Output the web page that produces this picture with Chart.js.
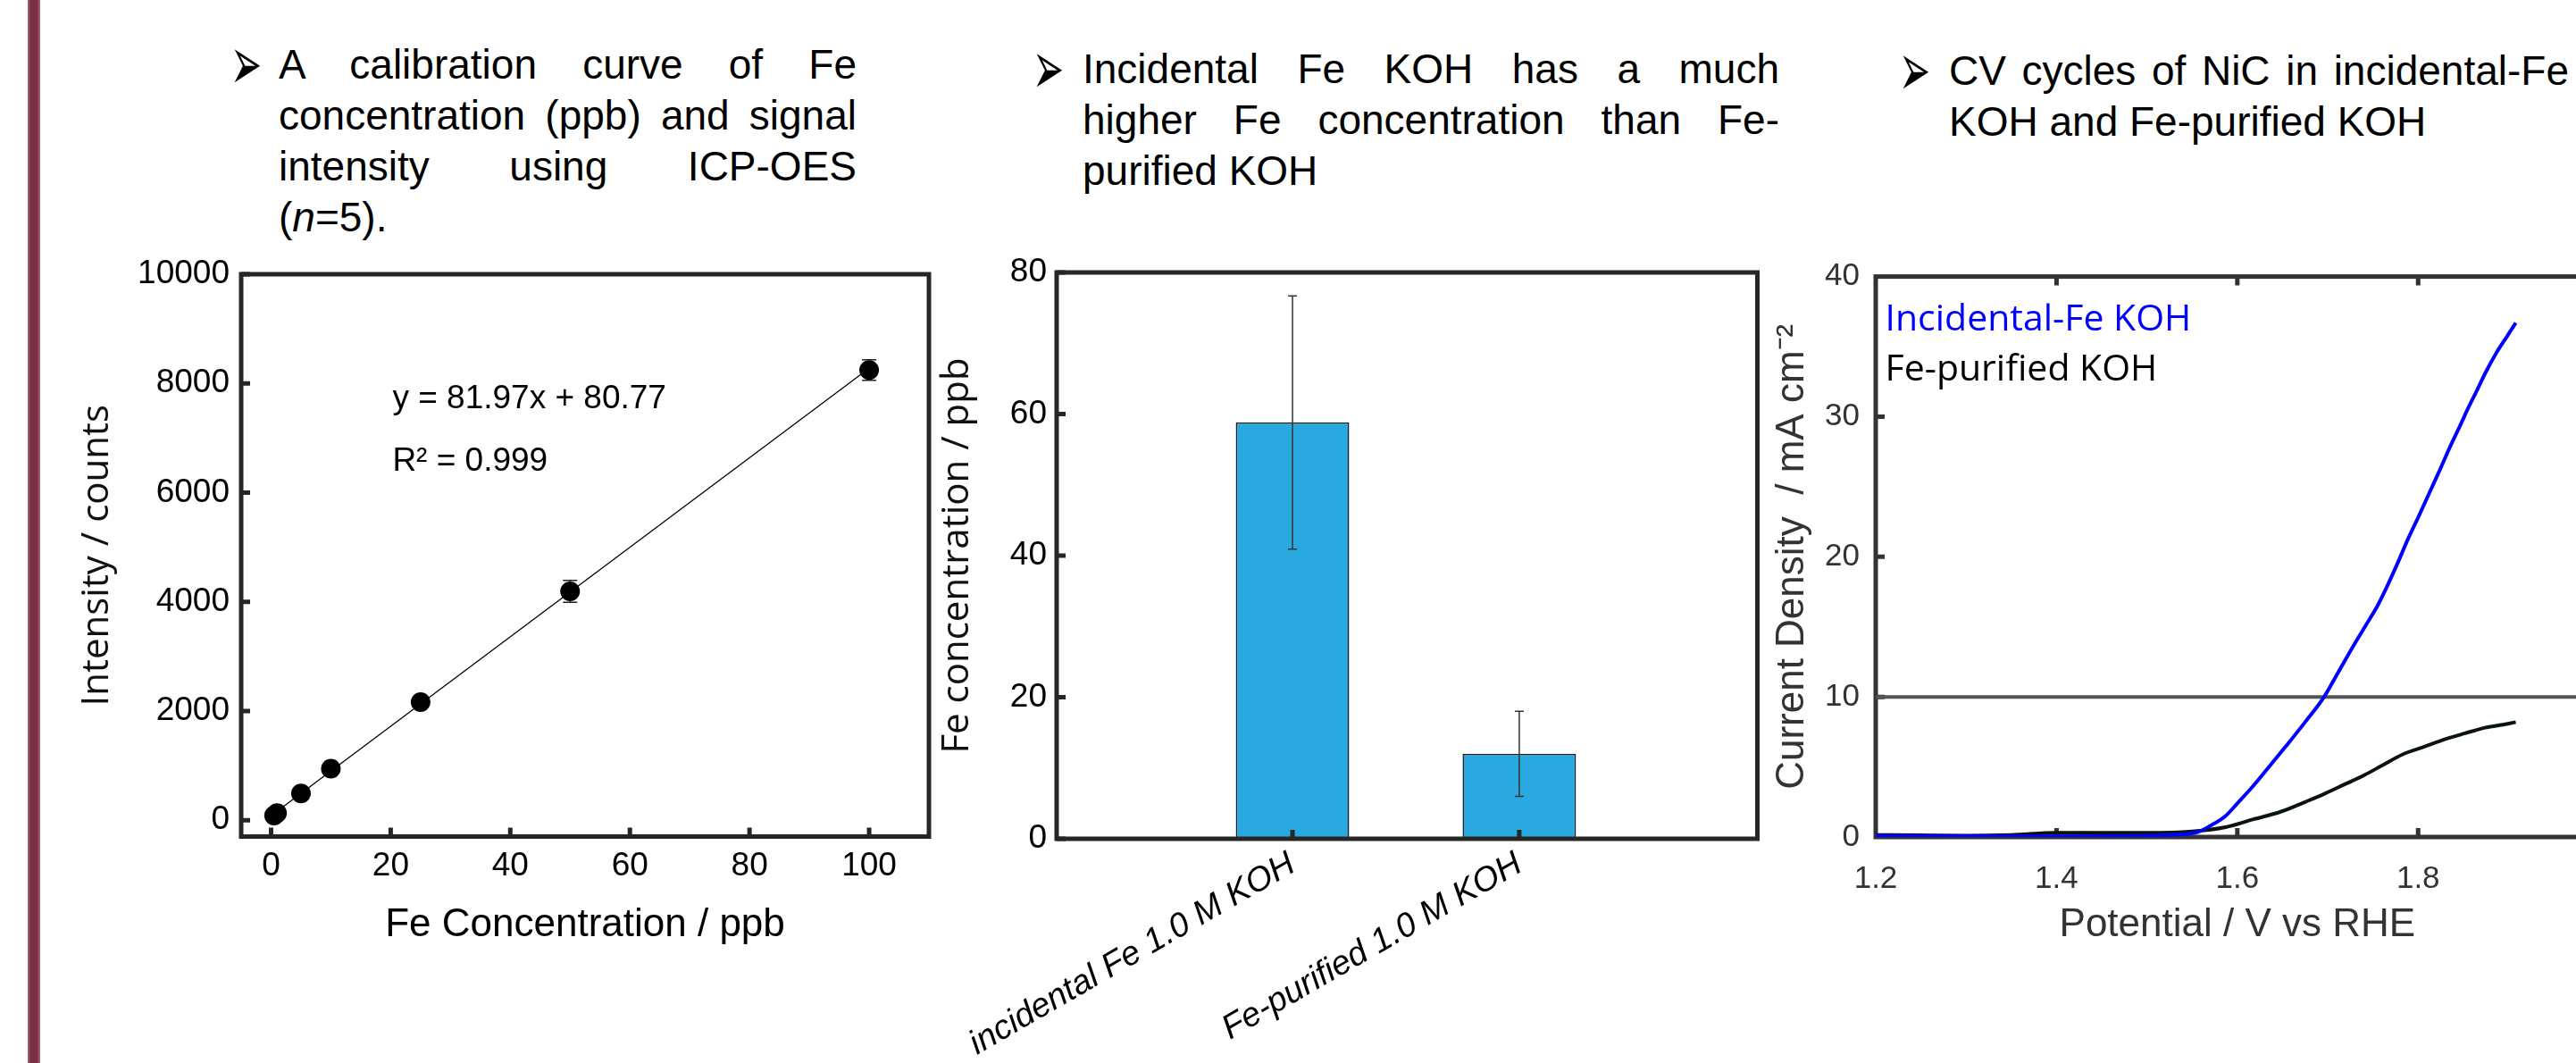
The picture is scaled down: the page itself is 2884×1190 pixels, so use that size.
<!DOCTYPE html>
<html><head><meta charset="utf-8">
<script src="https://cdn.jsdelivr.net/npm/chart.js@4.4.1/dist/chart.umd.min.js"></script>
<style>
html,body{margin:0;padding:0;background:#fff;width:2884px;height:1190px;overflow:hidden;position:relative;}
#redbar{position:absolute;left:31px;top:0;width:14px;height:1190px;background:linear-gradient(to right,#a46b78,#7b2f44 25%,#7b2f44 75%,#a46b78);}
.blk{position:absolute;display:flex;align-items:baseline;}
.bul{font-family:'DejaVu Sans';font-size:84px;line-height:0;flex:none;}
.bul span{display:inline-block;transform:translate(2px,12px) scaleX(0.5);transform-origin:0 100%;}
.txt{font-family:'Liberation Sans',Arial,sans-serif;font-size:46px;line-height:57px;color:#000;flex:none;}
.j{text-align:justify;text-align-last:justify;}
canvas{position:absolute;}
</style></head><body>
<div id="redbar"></div>

<div class="blk" style="left:256px;top:44px;">
  <div class="bul" style="width:56px"><span>➢</span></div>
  <div class="txt" style="width:647px">
    <div class="j">A calibration curve of Fe</div>
    <div class="j">concentration (ppb) and signal</div>
    <div class="j">intensity using ICP-OES</div>
    <div>(<i>n</i>=5).</div>
  </div>
</div>
<div class="blk" style="left:1154px;top:49px;">
  <div class="bul" style="width:58px"><span>➢</span></div>
  <div class="txt" style="width:780px">
    <div class="j">Incidental Fe KOH has a much</div>
    <div class="j">higher Fe concentration than Fe-</div>
    <div>purified KOH</div>
  </div>
</div>
<div class="blk" style="left:2124px;top:51px;">
  <div class="bul" style="width:58px"><span>➢</span></div>
  <div class="txt" style="width:694px">
    <div class="j">CV cycles of NiC in incidental-Fe</div>
    <div>KOH and Fe-purified KOH</div>
  </div>
</div>

<canvas id="c1"></canvas>
<canvas id="c2"></canvas>
<canvas id="c3"></canvas>

<script>
// ---------- DATA ----------
// Chart 1: ICP-OES calibration
const calConc = [0.5, 1, 5, 10, 25, 50, 100];
const calIntensity = [85, 130, 490, 942, 2163, 4190, 8245];
const calError = [30, 30, 40, 50, 80, 200, 190];
const fitConc = [0.5, 100];
const fitIntensity = [122, 8278];
const fitEquation = 'y = 81.97x + 80.77';
const fitR2 = 'R² = 0.999';
const calXTicks = [0, 20, 40, 60, 80, 100];
const calYTicks = [0, 2000, 4000, 6000, 8000, 10000];

// Chart 2: Fe concentration bars
const barCategories = ['incidental Fe 1.0 M KOH', 'Fe-purified 1.0 M KOH'];
const barPositions = [1, 2];
const barFe = [58.8, 12.0];
const barFeError = [17.9, 6.0];
const barYTicks = [0, 20, 40, 60, 80];

// Chart 3: CV curves
const cvPotentialIncidental = [1.20,1.25,1.30,1.35,1.40,1.45,1.50,1.53,1.556,1.57,1.587,1.60,1.617,1.635,1.654,1.675,1.696,1.712,1.728,1.742,1.755,1.765,1.777,1.789,1.80,1.812,1.824,1.835,1.846,1.856,1.866,1.875,1.887,1.898,1.908];
const cvCurrentIncidental = [0.10,0.08,0.06,0.05,0.05,0.06,0.10,0.16,0.35,0.8,1.5,2.4,3.6,5.0,6.5,8.2,10.0,11.8,13.6,15.1,16.5,17.8,19.5,21.3,22.8,24.5,26.2,27.8,29.3,30.7,32.0,33.2,34.6,35.7,36.7];
const cvPotentialPurified = [1.20,1.25,1.30,1.35,1.40,1.45,1.50,1.55,1.587,1.617,1.648,1.675,1.697,1.72,1.74,1.76,1.783,1.805,1.831,1.852,1.874,1.892,1.908];
const cvCurrentPurified = [0.15,0.12,0.10,0.15,0.30,0.30,0.30,0.40,0.7,1.25,1.8,2.5,3.1,3.8,4.4,5.1,5.9,6.4,7.0,7.4,7.8,8.0,8.2];
const refPotential = [1.2, 2.0];
const refCurrent = [10, 10];
const cvLegend = ['Incidental-Fe KOH', 'Fe-purified KOH'];
const cvXTicks = [1.2, 1.4, 1.6, 1.8, 2.0];
const cvYTicks = [0, 10, 20, 30, 40];

// ---------- HELPERS ----------
Chart.defaults.font.family = "'Liberation Sans', Arial, sans-serif";
Chart.defaults.color = '#000';
function mk(id, left, top, w, h) {
  const c = document.getElementById(id);
  c.width = w; c.height = h;
  c.style.left = left + 'px'; c.style.top = top + 'px';
  c.style.width = w + 'px'; c.style.height = h + 'px';
  return c;
}
function setTicks(values) { return s => { s.ticks = values.map(v => ({value: v})); }; }
function drawBox(chart, cfg) {
  const {ctx, chartArea: a} = chart;
  ctx.save(); ctx.strokeStyle = cfg.color; ctx.lineWidth = cfg.width;
  ctx.strokeRect(a.left, a.top, a.right - a.left, a.bottom - a.top);
  ctx.restore();
}
function drawTicks(chart, cfg) {
  const {ctx, chartArea: a, scales} = chart;
  ctx.save(); ctx.strokeStyle = cfg.color; ctx.lineWidth = cfg.tickWidth; ctx.beginPath();
  (cfg.bottom || []).forEach(v => { const p = scales.x.getPixelForValue(v); ctx.moveTo(p, a.bottom); ctx.lineTo(p, a.bottom - cfg.tickLen); });
  (cfg.top || []).forEach(v => { const p = scales.x.getPixelForValue(v); ctx.moveTo(p, a.top); ctx.lineTo(p, a.top + cfg.tickLen); });
  (cfg.left || []).forEach(v => { const p = scales.y.getPixelForValue(v); ctx.moveTo(a.left, p); ctx.lineTo(a.left + cfg.tickLen, p); });
  ctx.stroke(); ctx.restore();
}
function drawErrors(chart, xs, ys, es, color, lw, cap) {
  const {ctx, scales} = chart;
  ctx.save(); ctx.strokeStyle = color; ctx.lineWidth = lw; ctx.beginPath();
  xs.forEach((x, i) => {
    const px = scales.x.getPixelForValue(x);
    const top = scales.y.getPixelForValue(ys[i] + es[i]);
    const bot = scales.y.getPixelForValue(ys[i] - es[i]);
    ctx.moveTo(px, top); ctx.lineTo(px, bot);
    ctx.moveTo(px - cap, top); ctx.lineTo(px + cap, top);
    ctx.moveTo(px - cap, bot); ctx.lineTo(px + cap, bot);
  });
  ctx.stroke(); ctx.restore();
}
const noGrid = {display: false, drawTicks: false};
const noBorder = {display: false};
const plain = v => String(Math.round(v * 10) / 10);

// ---------- CHART 1 ----------
new Chart(mk('c1', 0, 250, 1100, 850), {
  type: 'scatter',
  data: {
    datasets: [
      {label: 'data', data: calConc.map((x, i) => ({x, y: calIntensity[i]})), pointRadius: 11, pointHoverRadius: 11,
       backgroundColor: '#000', borderWidth: 0, showLine: false},
      {label: 'fit', data: fitConc.map((x, i) => ({x, y: fitIntensity[i]})), showLine: true, pointRadius: 0,
       borderColor: '#000', borderWidth: 1.3}
    ]
  },
  options: {
    responsive: false, animation: false, devicePixelRatio: 1,
    layout: {padding: {left: 0, top: 57, right: 60, bottom: 0}},
    plugins: {legend: {display: false}, tooltip: {enabled: false}},
    scales: {
      x: {type: 'linear', min: -5, max: 110, grid: noGrid, border: noBorder,
          afterBuildTicks: setTicks(calXTicks),
          ticks: {padding: 11, font: {size: 37}, color: '#000', callback: plain},
          title: {display: true, text: 'Fe Concentration / ppb', font: {size: 44, lineHeight: 1}, color: '#000', padding: {top: 0, bottom: 42}},
          afterFit: s => { s.height = 163.5; }},
      y: {type: 'linear', min: -300, max: 10000, grid: noGrid, border: noBorder,
          afterBuildTicks: setTicks(calYTicks),
          ticks: {padding: 13, font: {size: 37}, color: '#000', callback: plain},
          title: {display: true, text: 'Intensity / counts', font: {family: "'Open Sans'", size: 42, lineHeight: 1}, color: '#111', padding: {top: 88, bottom: 0}},
          afterFit: s => { s.width = 270; }}
    }
  },
  plugins: [{
    id: 'c1deco',
    beforeDatasetsDraw(chart) {
      drawErrors(chart, calConc, calIntensity, calError, '#222', 1.5, 8);
    },
    afterDatasetsDraw(chart) {
      const cfg = {color: '#262626', width: 5, tickWidth: 5, tickLen: 10, bottom: calXTicks, left: calYTicks};
      drawBox(chart, cfg); drawTicks(chart, cfg);
      const {ctx, scales} = chart;
      ctx.save(); ctx.fillStyle = '#000'; ctx.font = "37px 'Liberation Sans', Arial"; ctx.textBaseline = 'alphabetic';
      ctx.fillText(fitEquation, scales.x.getPixelForValue(20.3), scales.y.getPixelForValue(7550));
      ctx.fillText(fitR2, scales.x.getPixelForValue(20.3), scales.y.getPixelForValue(6400));
      ctx.restore();
    }
  }]
});

// ---------- CHART 2 ----------
new Chart(mk('c2', 1000, 250, 1020, 940), {
  type: 'bar',
  data: {
    datasets: [{label: 'Fe', data: barPositions.map((x, i) => ({x, y: barFe[i]})),
      backgroundColor: '#29a9e0', borderColor: '#1a1a1a', borderWidth: 1.5,
      barPercentage: 0.5, categoryPercentage: 1}]
  },
  options: {
    responsive: false, animation: false, devicePixelRatio: 1,
    layout: {padding: {left: 0, top: 55, right: 52.5, bottom: 0}},
    plugins: {legend: {display: false}, tooltip: {enabled: false}},
    scales: {
      x: {type: 'linear', min: -0.04, max: 3.05, grid: noGrid, border: noBorder, offset: false,
          afterBuildTicks: setTicks(barPositions),
          ticks: {autoSkip: false, minRotation: 30, maxRotation: 30, padding: 6,
                  callback: (v, i) => barCategories[i], font: {size: 38, style: 'italic'}, color: '#000'},
          afterFit: s => { s.height = 251; }},
      y: {type: 'linear', min: 0, max: 80, grid: noGrid, border: noBorder,
          afterBuildTicks: setTicks(barYTicks),
          ticks: {padding: 11, font: {size: 37}, color: '#000', callback: plain},
          title: {display: true, text: 'Fe concentration / ppb', font: {family: "'Open Sans'", size: 42, lineHeight: 1}, color: '#111', padding: {top: 51, bottom: 0}},
          afterFit: s => { s.width = 183; }}
    }
  },
  plugins: [{
    id: 'c2deco',
    afterDatasetsDraw(chart) {
      drawErrors(chart, barPositions, barFe, barFeError, '#333', 1.5, 5);
      const cfg = {color: '#262626', width: 5, tickWidth: 5, tickLen: 10, bottom: barPositions, left: barYTicks};
      drawBox(chart, cfg); drawTicks(chart, cfg);
    }
  }]
});

// ---------- CHART 3 ----------
new Chart(mk('c3', 1900, 250, 1060, 940), {
  type: 'scatter',
  data: {
    datasets: [
      {label: cvLegend[0], data: cvPotentialIncidental.map((x, i) => ({x, y: cvCurrentIncidental[i]})),
       showLine: true, pointRadius: 0, borderColor: '#0000ff', borderWidth: 4, cubicInterpolationMode: 'monotone'},
      {label: cvLegend[1], data: cvPotentialPurified.map((x, i) => ({x, y: cvCurrentPurified[i]})),
       showLine: true, pointRadius: 0, borderColor: '#0a140a', borderWidth: 4, cubicInterpolationMode: 'monotone'},
      {label: 'ref', data: refPotential.map((x, i) => ({x, y: refCurrent[i]})),
       showLine: true, pointRadius: 0, borderColor: '#555', borderWidth: 4}
    ]
  },
  options: {
    responsive: false, animation: false, devicePixelRatio: 1,
    layout: {padding: {left: 0, top: 59.6, right: 40.4, bottom: 0}},
    plugins: {legend: {display: false}, tooltip: {enabled: false}},
    scales: {
      x: {type: 'linear', min: 1.2, max: 2.0, grid: noGrid, border: noBorder,
          afterBuildTicks: setTicks(cvXTicks),
          ticks: {padding: 26, font: {size: 35}, color: '#333', callback: v => v.toFixed(1)},
          title: {display: true, text: 'Potential / V vs RHE', font: {size: 44, lineHeight: 1}, color: '#333', padding: {top: 0, bottom: 132}},
          afterFit: s => { s.height = 253; }},
      y: {type: 'linear', min: 0, max: 40, grid: noGrid, border: noBorder,
          afterBuildTicks: setTicks(cvYTicks),
          ticks: {padding: 18, font: {size: 35}, color: '#333', callback: plain},
          title: {display: true, text: 'Current Density  / mA cm⁻²', font: {size: 44, lineHeight: 1}, color: '#333', padding: {top: 85, bottom: 0}},
          afterFit: s => { s.width = 200; }}
    }
  },
  plugins: [{
    id: 'c3deco',
    beforeDatasetsDraw(chart) {
      const cfg = {color: '#333', width: 5, tickWidth: 5, tickLen: 10,
        bottom: cvXTicks.slice(1, 4), top: cvXTicks.slice(1, 4), left: cvYTicks.slice(1, 4)};
      drawBox(chart, cfg); drawTicks(chart, cfg);
    },
    afterDatasetsDraw(chart) {
      const {ctx, chartArea: a} = chart;
      ctx.save(); ctx.font = "41px 'Open Sans'"; ctx.textBaseline = 'alphabetic';
      ctx.fillStyle = '#0000ff'; ctx.fillText(cvLegend[0], a.left + 10.5, a.top + 60.4);
      ctx.fillStyle = '#000'; ctx.fillText(cvLegend[1], a.left + 10.5, a.top + 115.9);
      ctx.restore();
    }
  }]
});
</script>
</body></html>
